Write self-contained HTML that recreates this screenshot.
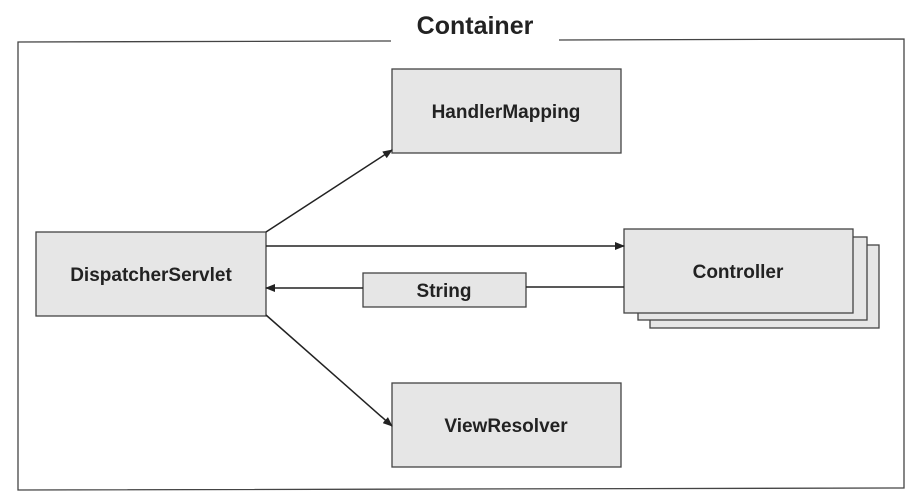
<!DOCTYPE html>
<html><head><style>
body{margin:0;background:#fff;}
svg{display:block;}
text{font-family:"Liberation Sans",sans-serif;font-weight:bold;fill:#222;}
</style></head><body>
<svg width="914" height="499" viewBox="0 0 914 499" xmlns="http://www.w3.org/2000/svg">
<defs><marker id="a" markerWidth="10" markerHeight="8" refX="9" refY="4" orient="auto" markerUnits="userSpaceOnUse"><path d="M0,0 L10,4 L0,8 z" fill="#222"/></marker></defs>
<path d="M391,41 L18,42 L18,490 L904,488 L904,39 L559,40" fill="none" stroke="#444" stroke-width="1.3"/>
<text x="475" y="34" font-size="25" text-anchor="middle">Container</text>
<g fill="#e6e6e6" stroke="#444" stroke-width="1.3">
<rect x="392" y="69" width="229" height="84"/>
<rect x="36" y="232" width="230" height="84"/>
<rect x="650" y="245" width="229" height="83"/>
<rect x="638" y="237" width="229" height="83"/>
<rect x="624" y="229" width="229" height="84"/>
<rect x="363" y="273" width="163" height="34"/>
<rect x="392" y="383" width="229" height="84"/>
</g>
<g stroke="#222" stroke-width="1.5" fill="none">
<line x1="266" y1="232" x2="392" y2="150" marker-end="url(#a)"/>
<line x1="266" y1="246" x2="624" y2="246" marker-end="url(#a)"/>
<line x1="624" y1="287" x2="526" y2="287"/>
<line x1="363" y1="288" x2="266" y2="288" marker-end="url(#a)"/>
<line x1="266" y1="315" x2="392" y2="426" marker-end="url(#a)"/>
</g>
<text x="506" y="118" font-size="19" text-anchor="middle">HandlerMapping</text>
<text x="151" y="281" font-size="19" text-anchor="middle">DispatcherServlet</text>
<text x="738" y="278" font-size="19" text-anchor="middle">Controller</text>
<text x="444" y="297" font-size="19" text-anchor="middle">String</text>
<text x="506" y="432" font-size="19" text-anchor="middle">ViewResolver</text>
</svg>
</body></html>
